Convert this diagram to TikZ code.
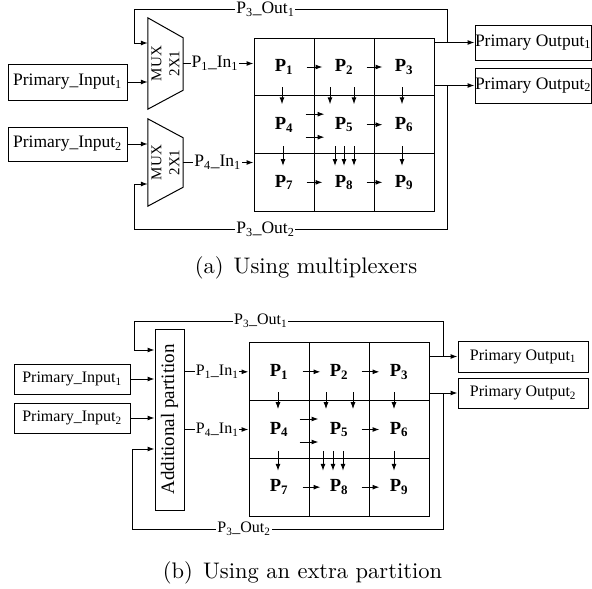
\documentclass[tikz,border=0pt]{standalone}
\usepackage{fontspec}
\newfontfamily\tnr{Liberation Serif}
\newfontfamily\capfont{lmroman10-regular}[Extension=.otf]
\usetikzlibrary{arrows.meta,calc,positioning}

\begin{document}
\begin{tikzpicture}[x={(1pt,0)},y={(0,-1pt)}]

    \tikzset{
      flow/.style={line width=1pt,-{Latex[length=7pt,width=5pt]}},
      wire/.style={line width=1pt},
      iobox/.style={draw,line width=1pt,inner sep=0pt},
      cell/.style={draw,line width=1pt,minimum width=60pt,minimum height=57.67pt,inner sep=0pt},
      lbl/.style={fill=white,inner sep=1pt},
      fa/.style={font=\tnr\fontsize{17.5}{20}\selectfont},
      fb/.style={font=\tnr\fontsize{16}{18}\selectfont},
      fp/.style={font=\tnr\bfseries\fontsize{18.5}{20}\selectfont},
      captext/.style={font=\capfont\fontsize{22.5}{26}\selectfont},
    }
    \useasboundingbox (0,0) rectangle (592,589);

    % (a) multiplexers
    \node[iobox,fa,minimum width=119pt,minimum height=36pt] (in1) at (67.5,82) {Primary\_Input\textsubscript{1}};
    \node[iobox,fa,minimum width=119pt,minimum height=34pt] (in2) at (67.5,144) {Primary\_Input\textsubscript{2}};
    \node[iobox,fa,minimum width=116pt,minimum height=35pt] (out1) at (533,42.5) {Primary Output\textsubscript{1}};
    \node[iobox,fa,minimum width=116pt,minimum height=35pt] (out2) at (533,85.5) {Primary Output\textsubscript{2}};

    \node[minimum width=35pt,minimum height=91pt,inner sep=0pt] (mux1) at (165.5,63.5) {};
    \node[minimum width=35pt,minimum height=87pt,inner sep=0pt] (mux2) at (165.5,162.5) {};
    \draw[wire] (mux1.north west) -- ([yshift=-20pt]mux1.north east) -- ([yshift=19pt]mux1.south east) -- (mux1.south west) -- cycle;
    \draw[wire] (mux2.north west) -- ([yshift=-19pt]mux2.north east) -- ([yshift=19pt]mux2.south east) -- (mux2.south west) -- cycle;
    \node[rotate=90,align=center,font=\tnr\fontsize{15}{18}\selectfont] at (mux1) {MUX\\2X1};
    \node[rotate=90,align=center,font=\tnr\fontsize{15}{18}\selectfont] at (mux2) {MUX\\2X1};

    \foreach \i in {0,...,8}{
      \pgfmathtruncatemacro\c{mod(\i,3)}
      \pgfmathtruncatemacro\r{div(\i,3)}
      \pgfmathtruncatemacro\n{\i+1}
      \node[cell,fp] (a\n) at (284+60*\c,67+57.67*\r) {P\textsubscript{\n}};
    }

    \draw[flow] (in1.east) -- (in1.east -| mux1.west);
    \draw[flow] (in2.east) -- (in2.east -| mux2.west);
    \draw[flow] (mux1.east) -- node[lbl,fa,pos=0.45]{P\textsubscript{1}\_In\textsubscript{1}} (mux1.east -| a1.west);
    \draw[flow] (mux2.east) -- node[lbl,fa,pos=0.49]{P\textsubscript{4}\_In\textsubscript{1}} (mux2.east -| a7.west);
    \draw[flow] (a3.east |- out1.west) -- (out1.west);
    \draw[flow] (a3.east |- out2.west) -- (out2.west);
    \coordinate (ja) at (447,0);
    \draw[flow] (out1.west -| ja) -- (447,9) -- node[lbl,fa,pos=0.58]{P\textsubscript{3}\_Out\textsubscript{1}} (134,9) |- ([yshift=20.5pt]mux1.west);
    \draw[flow] (out2.west -| ja) -- (447,229) -- node[lbl,fa,pos=0.58]{P\textsubscript{3}\_Out\textsubscript{2}} (134,229) |- ([yshift=-21.5pt]mux2.west);

    \draw[flow] ([xshift=-8pt]a1.east) -- ([xshift=8pt]a1.east);
    \draw[flow] ([xshift=-8pt]a2.east) -- ([xshift=8pt]a2.east);
    \draw[flow] ([xshift=-8pt]a5.east) -- ([xshift=8pt]a5.east);
    \draw[flow] ([xshift=-8pt]a7.east) -- ([xshift=8pt]a7.east);
    \draw[flow] ([xshift=-8pt]a8.east) -- ([xshift=8pt]a8.east);
    \draw[flow] ([xshift=-9pt,yshift=10.5pt]a4.east) -- ([xshift=10pt,yshift=10.5pt]a4.east);
    \draw[flow] ([xshift=-9pt,yshift=-12.5pt]a4.east) -- ([xshift=10pt,yshift=-12.5pt]a4.east);
    \draw[flow] ([xshift=-2pt,yshift=9pt]a1.south) -- ([xshift=-2pt,yshift=-8pt]a1.south);
    \draw[flow] ([xshift=-14pt,yshift=9pt]a2.south) -- ([xshift=-14pt,yshift=-8pt]a2.south);
    \draw[flow] ([xshift=10pt,yshift=9pt]a2.south) -- ([xshift=10pt,yshift=-8pt]a2.south);
    \draw[flow] ([xshift=-2pt,yshift=9pt]a3.south) -- ([xshift=-2pt,yshift=-8pt]a3.south);
    \draw[flow] ([xshift=-1pt,yshift=8pt]a4.south) -- ([xshift=-1pt,yshift=-12pt]a4.south);
    \draw[flow] ([xshift=-9pt,yshift=8pt]a5.south) -- ([xshift=-9pt,yshift=-12pt]a5.south);
    \draw[flow] ([yshift=8pt]a5.south) -- ([yshift=-12pt]a5.south);
    \draw[flow] ([xshift=10pt,yshift=8pt]a5.south) -- ([xshift=10pt,yshift=-12pt]a5.south);
    \draw[flow] ([xshift=-2pt,yshift=8pt]a6.south) -- ([xshift=-2pt,yshift=-12pt]a6.south);

    \node[captext] (capa) at (306,268) {(a)\hspace{0.45em}Using multiplexers};

    % (b) extra partition
    \node[iobox,fb,minimum width=116pt,minimum height=30pt] (in1b) at (72,379) {Primary\_Input\textsubscript{1}};
    \node[iobox,fb,minimum width=116pt,minimum height=30pt] (in2b) at (72,418) {Primary\_Input\textsubscript{2}};
    \node[iobox,fb,minimum width=130pt,minimum height=31pt] (out1b) at (523,356.5) {Primary Output\textsubscript{1}};
    \node[iobox,fb,minimum width=130pt,minimum height=30pt] (out2b) at (523,393) {Primary Output\textsubscript{2}};

    \node[iobox,minimum width=29pt,minimum height=181pt] (part) at (169.5,419.5) {};
    \node[rotate=90,font=\tnr\fontsize{19}{22}\selectfont] at (part) {Additional partition};

    \foreach \i in {0,...,8}{
      \pgfmathtruncatemacro\c{mod(\i,3)}
      \pgfmathtruncatemacro\r{div(\i,3)}
      \pgfmathtruncatemacro\n{\i+1}
      \node[cell,fp] (b\n) at (279+60*\c,371.83+57.67*\r) {P\textsubscript{\n}};
    }

    \draw[flow] (in1b.east) -- (in1b.east -| part.west);
    \draw[flow] (in2b.east) -- (in2b.east -| part.west);
    \draw[flow] (part.east |- b1.west) -- node[lbl,fb,pos=0.51]{P\textsubscript{1}\_In\textsubscript{1}} (b1.west);
    \draw[flow] (part.east |- b4.west) -- node[lbl,fb,pos=0.51]{P\textsubscript{4}\_In\textsubscript{1}} (b4.west);
    \draw[flow] (b3.east |- out1b.west) -- (out1b.west);
    \draw[flow] (b3.east |- out2b.west) -- (out2b.west);
    \coordinate (jb) at (443,0);
    \draw[flow] (out1b.west -| jb) -- (443,321) -- node[lbl,fb,pos=0.59]{P\textsubscript{3}\_Out\textsubscript{1}} (134,321) |- ([yshift=69.5pt]part.west);
    \draw[flow] (out2b.west -| jb) -- (443,529) -- node[lbl,fb,pos=0.64]{P\textsubscript{3}\_Out\textsubscript{2}} (132,529) |- ([yshift=-29.5pt]part.west);

    \draw[flow] ([xshift=-7pt]b1.east) -- ([xshift=11pt]b1.east);
    \draw[flow] ([xshift=-8pt]b2.east) -- ([xshift=10pt]b2.east);
    \draw[flow] ([xshift=-8pt]b5.east) -- ([xshift=10pt]b5.east);
    \draw[flow] ([xshift=-7pt]b7.east) -- ([xshift=11pt]b7.east);
    \draw[flow] ([xshift=-8pt]b8.east) -- ([xshift=10pt]b8.east);
    \draw[flow] ([xshift=-10pt,yshift=10.5pt]b4.east) -- ([xshift=9pt,yshift=10.5pt]b4.east);
    \draw[flow] ([xshift=-10pt,yshift=-12.5pt]b4.east) -- ([xshift=9pt,yshift=-12.5pt]b4.east);
    \draw[flow] ([xshift=-1pt,yshift=9pt]b1.south) -- ([xshift=-1pt,yshift=-8pt]b1.south);
    \draw[flow] ([xshift=-13pt,yshift=9pt]b2.south) -- ([xshift=-13pt,yshift=-8pt]b2.south);
    \draw[flow] ([xshift=14pt,yshift=9pt]b2.south) -- ([xshift=14pt,yshift=-8pt]b2.south);
    \draw[flow] ([xshift=-5pt,yshift=9pt]b3.south) -- ([xshift=-5pt,yshift=-8pt]b3.south);
    \draw[flow] ([xshift=-1pt,yshift=8pt]b4.south) -- ([xshift=-1pt,yshift=-12pt]b4.south);
    \draw[flow] ([xshift=-16pt,yshift=8pt]b5.south) -- ([xshift=-16pt,yshift=-12pt]b5.south);
    \draw[flow] ([xshift=-6pt,yshift=8pt]b5.south) -- ([xshift=-6pt,yshift=-12pt]b5.south);
    \draw[flow] ([xshift=4pt,yshift=8pt]b5.south) -- ([xshift=4pt,yshift=-12pt]b5.south);
    \draw[flow] ([xshift=-5pt,yshift=8pt]b6.south) -- ([xshift=-5pt,yshift=-12pt]b6.south);

    \node[captext] (capb) at (302.5,573) {(b)\hspace{0.45em}Using an extra partition};

\end{tikzpicture}
\end{document}
